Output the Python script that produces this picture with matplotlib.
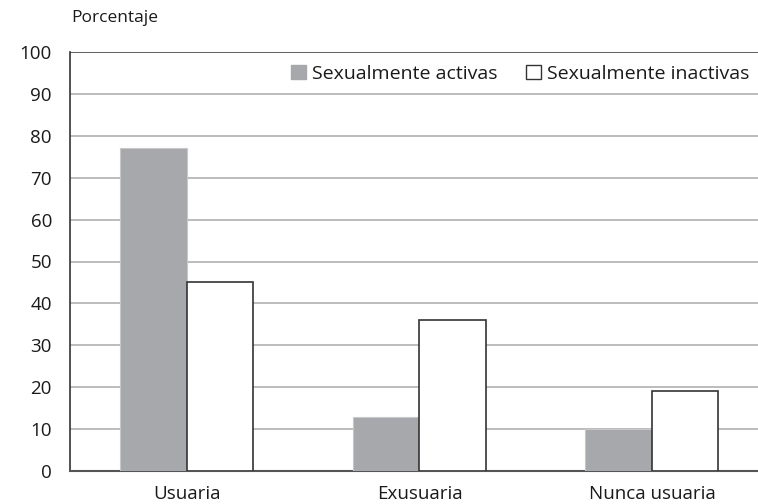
import matplotlib
matplotlib.use("Agg")
import matplotlib.pyplot as plt
from matplotlib.patches import Patch
import numpy as np

categories = ["Usuaria", "Exusuaria", "Nunca usuaria"]
activas = [77, 13, 10]
inactivas = [45, 36, 19]
series_names = ["Sexualmente activas", "Sexualmente inactivas"]
yticks = [0, 10, 20, 30, 40, 50, 60, 70, 80, 90, 100]

plt.rcParams['font.family'] = ['Open Sans', 'DejaVu Sans']

fig = plt.figure(figsize=(7.58, 5.04), dpi=100)
ax = fig.add_axes([70/758, 33/504, 1 - 70/758, (471-52)/504])

x = np.arange(len(categories))
w = 0.286
ax.bar(x - w/2, activas, w, color="#a7a8ab", edgecolor="#c8c8ca", linewidth=0.8, zorder=3)
ax.bar(x + w/2, inactivas, w, color="white", edgecolor="#333333", linewidth=1.2, zorder=3)

ax.set_ylim(0, 100)
ax.set_xlim(-0.503, 2.456)
ax.set_yticks(yticks)
ax.set_xticks(x)
ax.set_xticklabels(categories, fontsize=13.5, color="#1a1a1a")
ax.tick_params(axis='both', length=0, labelsize=13.5, colors="#1a1a1a")
ax.tick_params(axis='y', pad=13)
ax.tick_params(axis='x', pad=10)
for t in yticks[1:-1]:
    ax.axhline(t, color="#b0b0b0", linewidth=1.2, zorder=1)
ax.axhline(100, color="#444444", linewidth=1.2, zorder=1)
for s in ["top", "right"]:
    ax.spines[s].set_visible(False)
ax.spines["left"].set_color("#333333")
ax.spines["left"].set_linewidth(1.2)
ax.spines["bottom"].set_color("#555555")
ax.spines["bottom"].set_linewidth(1.5)

fig.text(71/758, 1 - 18/504, "Porcentaje", fontsize=12.5, color="#1a1a1a", va="center", ha="left")

handles = [Patch(facecolor="#a7a8ab", edgecolor="#a7a8ab"),
           Patch(facecolor="white", edgecolor="#333333", linewidth=1.0)]
leg = ax.legend(handles, series_names, loc="upper right", bbox_to_anchor=(1.0, 0.99),
                frameon=False, ncol=2, fontsize=14, handlelength=0.75, handleheight=0.75,
                handletextpad=0.3, columnspacing=1.5, borderaxespad=0.05)
for t in leg.get_texts():
    t.set_color("#1a1a1a")

fig.savefig("out.png", dpi=100)
